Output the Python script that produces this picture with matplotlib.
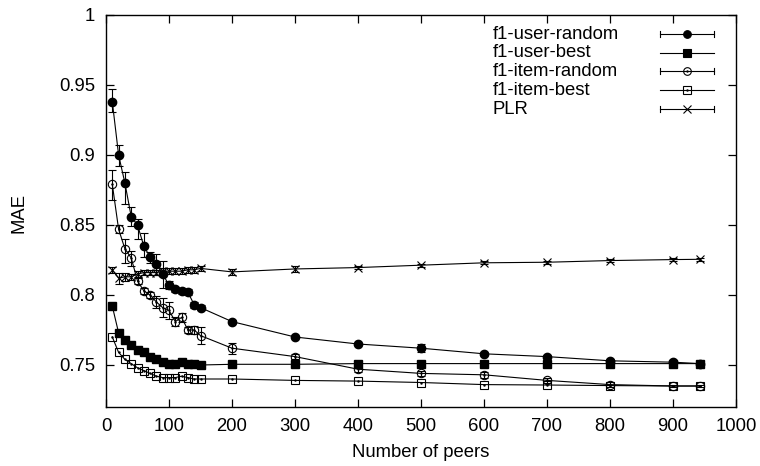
import matplotlib
matplotlib.use('Agg')
import matplotlib.pyplot as plt
from matplotlib.lines import Line2D

plt.rcParams['font.family'] = ['Liberation Sans', 'DejaVu Sans']

peers = [10, 20, 30, 40, 50, 60, 70, 80, 90, 100, 110, 120, 130, 140, 150,
         200, 300, 400, 500, 600, 700, 800, 900, 943]

user_random = [0.938, 0.900, 0.880, 0.856, 0.850, 0.835, 0.827, 0.822, 0.815, 0.807,
               0.804, 0.803, 0.802, 0.793, 0.791, 0.781, 0.770, 0.765, 0.762, 0.758,
               0.756, 0.753, 0.752, 0.751]
user_random_lo = [0.007, 0.008, 0.015, 0.007, 0.010, 0.008, 0.004, 0.008, 0.010, 0.003,
                  0.002, 0.002, 0.002, 0.002, 0.002, 0.001, 0.001, 0.001, 0.003, 0.001,
                  0.001, 0.001, 0.001, 0.001]
user_random_hi = [0.009, 0.007, 0.008, 0.007, 0.004, 0.009, 0.004, 0.007, 0.009, 0.003,
                  0.002, 0.002, 0.002, 0.002, 0.002, 0.001, 0.001, 0.001, 0.003, 0.001,
                  0.001, 0.001, 0.001, 0.001]

user_best = [0.792, 0.773, 0.768, 0.764, 0.761, 0.759, 0.756, 0.754, 0.752, 0.751,
             0.751, 0.752, 0.751, 0.751, 0.750, 0.7505, 0.7505, 0.751, 0.751, 0.751,
             0.751, 0.751, 0.751, 0.751]

item_random = [0.879, 0.847, 0.833, 0.8265, 0.810, 0.803, 0.800, 0.795, 0.791, 0.789,
               0.781, 0.784, 0.775, 0.775, 0.771, 0.762, 0.756, 0.747, 0.744, 0.743,
               0.739, 0.736, 0.735, 0.735]
item_random_lo = [0.011, 0.003, 0.010, 0.006, 0.002, 0.002, 0.002, 0.004, 0.007, 0.006,
                  0.003, 0.003, 0.002, 0.003, 0.006, 0.004, 0.002, 0.002, 0.002, 0.002,
                  0.002, 0.002, 0.001, 0.001]
item_random_hi = [0.010, 0.003, 0.007, 0.005, 0.002, 0.002, 0.002, 0.004, 0.007, 0.006,
                  0.003, 0.003, 0.002, 0.003, 0.006, 0.004, 0.002, 0.002, 0.002, 0.002,
                  0.002, 0.002, 0.001, 0.001]

item_best = [0.770, 0.759, 0.754, 0.751, 0.748, 0.746, 0.744, 0.742, 0.741, 0.741,
             0.741, 0.742, 0.741, 0.740, 0.740, 0.740, 0.739, 0.7385, 0.7375, 0.736,
             0.7357, 0.7353, 0.735, 0.735]

plr = [0.818, 0.812, 0.813, 0.813, 0.815, 0.816, 0.816, 0.816, 0.817, 0.817,
       0.817, 0.817, 0.818, 0.818, 0.819, 0.8165, 0.8186, 0.8196, 0.8213, 0.823,
       0.8234, 0.8246, 0.8253, 0.8255]
plr_err = [0.002, 0.004, 0.003, 0.002, 0.002, 0.002, 0.002, 0.002, 0.002, 0.002,
           0.002, 0.002, 0.002, 0.002, 0.002, 0.002, 0.002, 0.001, 0.001, 0.001,
           0.001, 0.001, 0.001, 0.001]

labels = ['f1-user-random', 'f1-user-best', 'f1-item-random', 'f1-item-best', 'PLR']

FS = 13.3

fig = plt.figure(figsize=(7.6, 4.66), dpi=100)
ax = fig.add_axes([106 / 760, 1 - 407 / 466, 630 / 760, 392 / 466])

lw = 0.8
ms = 6
eb = dict(color='black', lw=lw, elinewidth=lw, capsize=3, capthick=lw, ms=ms)

ax.errorbar(peers, user_random, yerr=[user_random_lo, user_random_hi],
            marker='o', mfc='black', mec='black', **eb)
ax.plot(peers, user_best, color='black', lw=lw, marker='s', ms=ms, mfc='black', mec='black')
ax.errorbar(peers, item_random, yerr=[item_random_lo, item_random_hi],
            marker='o', mfc='none', mec='black', mew=0.8, **eb)
ax.plot(peers, item_random, ls='none', marker='.', ms=1.5, color='black')
ax.plot(peers, item_best, color='black', lw=lw, marker='s', ms=ms, mfc='none', mec='black', mew=0.8)
ax.plot(peers, item_best, ls='none', marker='.', ms=1.5, color='black')
ax.errorbar(peers, plr, yerr=plr_err, marker='x', mfc='none', mec='black', mew=0.8, **eb)

ax.set_xlim(0, 1000)
ax.set_ylim(0.72, 1.0)
ax.set_xticks(range(0, 1001, 100))
ax.set_yticks([0.75, 0.8, 0.85, 0.9, 0.95, 1.0])
ax.set_yticklabels(['0.75', '0.8', '0.85', '0.9', '0.95', '1'])
ax.tick_params(direction='in', length=6, width=0.9, top=True, right=True,
               labelsize=FS, pad=8, colors='black')
for s in ax.spines.values():
    s.set_linewidth(1.0)

ax.set_xlabel('Number of peers', fontsize=FS)
ax.set_ylabel('MAE', fontsize=FS)
ax.xaxis.set_label_coords(0.5, -0.095)
ax.yaxis.set_label_coords(-0.125, 0.495)

# gnuplot-style key
key_rows = [0.9514, 0.9036, 0.8568, 0.808, 0.7596]
key_specs = [
    dict(marker='o', mfc='black', caps=True),
    dict(marker='s', mfc='black', caps=False),
    dict(marker='o', mfc='none', caps=True),
    dict(marker='s', mfc='none', caps=False),
    dict(marker='x', mfc='none', caps=True),
]
x0, x1, xm = 0.879, 0.965, 0.922
cap_h = 0.008
for y, lab, spec in zip(key_rows, labels, key_specs):
    ax.text(0.614, y, lab, transform=ax.transAxes, fontsize=FS,
            va='center', ha='left')
    ax.add_line(Line2D([x0, x1], [y, y], transform=ax.transAxes, color='black', lw=lw))
    if spec['caps']:
        for xx in (x0, x1):
            ax.add_line(Line2D([xx, xx], [y - cap_h, y + cap_h], transform=ax.transAxes,
                               color='black', lw=lw))
    ax.add_line(Line2D([xm], [y], transform=ax.transAxes, marker=spec['marker'],
                       ms=5.5 if spec['marker'] != 'x' else 6, mfc=spec['mfc'],
                       mec='black', mew=0.8, ls='none'))
    if spec['mfc'] == 'none' and spec['marker'] != 'x':
        ax.add_line(Line2D([xm], [y], transform=ax.transAxes, marker='.', ms=1.5,
                           color='black', ls='none'))

fig.savefig('out.png', dpi=100)
